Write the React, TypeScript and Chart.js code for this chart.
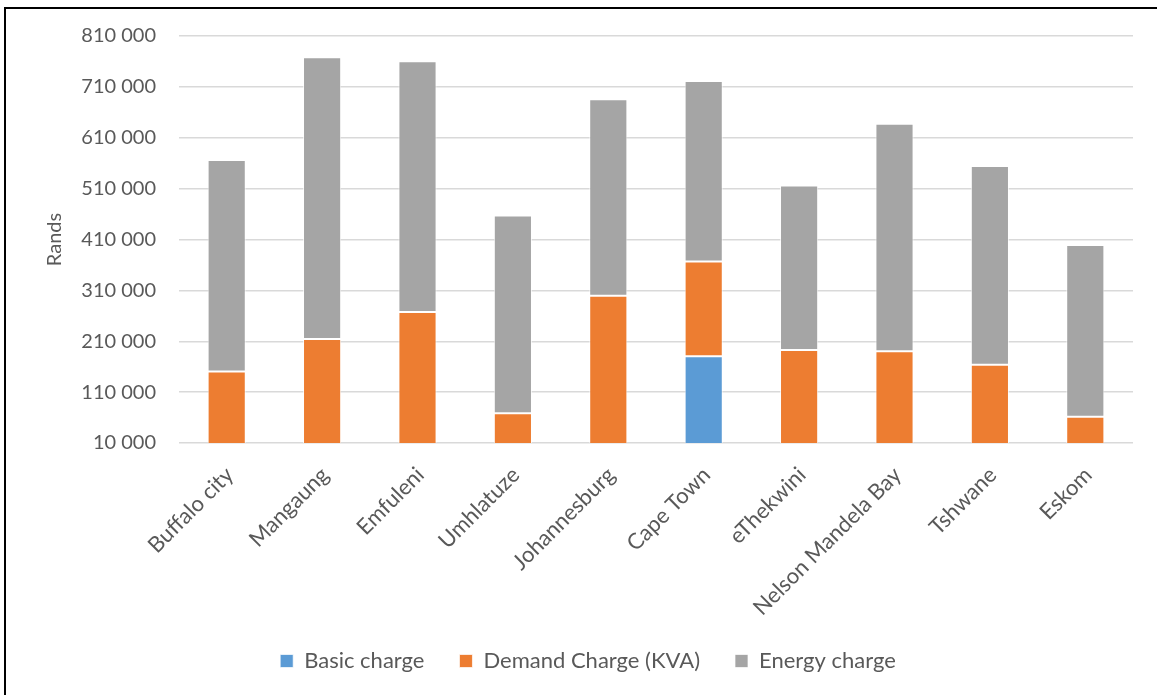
import React, { useEffect, useRef } from "react";
import { Chart, registerables } from "chart.js";

Chart.register(...registerables);

const categories = [
  "Buffalo city",
  "Mangaung",
  "Emfuleni",
  "Umhlatuze",
  "Johannesburg",
  "Cape Town",
  "eThekwini",
  "Nelson Mandela Bay",
  "Tshwane",
  "Eskom",
];

const basicCharge = [0, 0, 0, 0, 0, 180400, 0, 0, 0, 0];
const demandCharge = [150500, 214500, 267600, 68700, 299600, 186200, 193000, 190200, 164000, 61500];
const energyCharge = [415900, 553700, 492700, 388300, 386000, 355000, 322900, 447500, 390600, 337900];

const seriesNames = ["Basic charge", "Demand Charge (KVA)", "Energy charge"];
const seriesColors = ["#5B9BD5", "#ED7D31", "#A5A5A5"];

const yMin = 10000;
const yMax = 810000;
const yStep = 100000;

const FONT = "Lato, 'Open Sans', sans-serif";
const TEXT = "#595959";

function fmt(v: number): string {
  return String(Math.round(v)).replace(/\B(?=(\d{3})+(?!\d))/g, " ");
}

export default function App() {
  const ref = useRef<HTMLCanvasElement | null>(null);

  useEffect(() => {
    if (!ref.current) return;
    const data = [basicCharge, demandCharge, energyCharge];
    const chart = new Chart(ref.current, {
      type: "bar",
      data: {
        labels: categories,
        datasets: data.map((d, i) => ({
          label: seriesNames[i],
          data: d,
          backgroundColor: seriesColors[i],
          borderColor: "rgba(255,255,255,0.7)",
          borderWidth: 1,
          borderSkipped: false,
          barPercentage: 0.4,
          categoryPercentage: 1,
        })),
      },
      options: {
        animation: false,
        responsive: false,
        maintainAspectRatio: false,
        layout: { padding: { left: 43, top: 36, right: 24, bottom: 13 } },
        plugins: {
          tooltip: { enabled: false },
          legend: {
            position: "bottom",
            labels: {
              boxWidth: 13,
              boxHeight: 13,
              padding: 35,
              color: TEXT,
              font: { family: FONT, size: 22 },
            },
          },
        },
        scales: {
          x: {
            stacked: true,
            grid: { display: false },
            border: { display: false },
            ticks: {
              color: TEXT,
              font: { family: FONT, size: 22 },
              maxRotation: 45,
              minRotation: 45,
              autoSkip: false,
              padding: 11,
              labelOffset: 3,
            },
            afterFit: (s: any) => {
              s.height = 172;
            },
          },
          y: {
            stacked: true,
            min: yMin,
            max: yMax,
            grid: { color: "#D9D9D9", lineWidth: 1.5, drawTicks: false },
            border: { display: false },
            ticks: {
              stepSize: yStep,
              color: TEXT,
              font: { family: FONT, size: 20 },
              padding: 23,
              callback: (v: any) => fmt(Number(v)),
            },
            title: {
              display: true,
              text: "Rands",
              color: TEXT,
              font: { family: FONT, size: 20 },
              padding: 0,
            },
            afterFit: (s: any) => {
              s.width = 136;
            },
          },
        },
      },
    });
    return () => chart.destroy();
  }, []);

  return (
    <div style={{ position: "fixed", left: 0, top: 0, width: 1157, height: 695, background: "#fff", overflow: "hidden" }}>
      <div
        style={{
          position: "absolute",
          left: 4,
          top: 7,
          width: 1200,
          height: 800,
          borderLeft: "2px solid #000",
          borderTop: "2px solid #000",
        }}
      />
      <canvas ref={ref} width={1157} height={695} style={{ position: "absolute", left: 0, top: 0, width: 1157, height: 695 }} />
    </div>
  );
}
